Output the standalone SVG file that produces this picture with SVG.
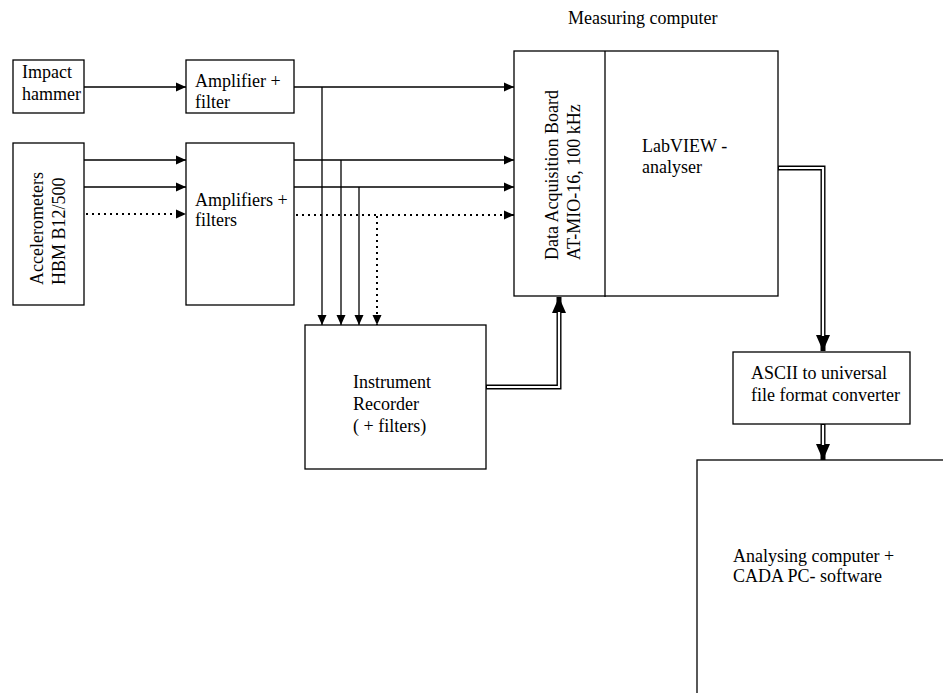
<svg xmlns="http://www.w3.org/2000/svg" width="943" height="693" viewBox="0 0 943 693">
<style>
.box{fill:#fff;stroke:#000;stroke-width:1.3}
.t{font-family:"Liberation Serif","Times New Roman",serif;font-size:18px;fill:#000}
.ln{fill:none;stroke:#000;stroke-width:1.3}
.dot{fill:none;stroke:#000;stroke-width:2;stroke-dasharray:2 4}
.dbl{fill:none;stroke:#000;stroke-width:5}
.dblw{fill:none;stroke:#fff;stroke-width:2.2}
</style>
<defs>
<marker id="ah" markerUnits="userSpaceOnUse" markerWidth="10" markerHeight="10" refX="10" refY="4.5" orient="auto" viewBox="0 0 10 9">
<path d="M0,0 L10,4.5 L0,9 z" fill="#000"/>
</marker>
<marker id="ahb" markerUnits="userSpaceOnUse" markerWidth="16" markerHeight="14" refX="16" refY="7" orient="auto" viewBox="0 0 16 14">
<path d="M0,0 L16,7 L0,14 z" fill="#000"/>
</marker>
</defs>
<rect width="943" height="693" fill="#fff"/>
<text class="t" x="568" y="24">Measuring computer</text>
<g id="impact">
<rect class="box" x="13" y="60" width="71" height="53"/>
<text class="t" x="22" y="78">Impact</text>
<text class="t" x="22" y="100">hammer</text>
</g>
<g id="amp">
<rect class="box" x="186" y="60" width="108" height="53"/>
<text class="t" x="195" y="87">Amplifier +</text>
<text class="t" x="195" y="108">filter</text>
</g>
<g id="accel">
<rect class="box" x="13" y="143" width="71" height="162"/>
<text class="t" transform="translate(43,285) rotate(-90)">Accelerometers</text>
<text class="t" transform="translate(65,285) rotate(-90)">HBM B12/500</text>
</g>
<g id="amps">
<rect class="box" x="186" y="143" width="108" height="162"/>
<text class="t" x="195" y="206">Amplifiers +</text>
<text class="t" x="195" y="226">filters</text>
</g>
<g id="daq">
<rect class="box" x="514" y="51" width="264" height="245"/>
<line class="ln" x1="605" y1="51" x2="605" y2="297"/>
<text class="t" transform="translate(558,260) rotate(-90)">Data Acquisition Board</text>
<text class="t" transform="translate(580,260) rotate(-90)">AT-MIO-16, 100 kHz</text>
<text class="t" x="642" y="152">LabVIEW -</text>
<text class="t" x="642" y="173">analyser</text>
</g>
<g id="recorder">
<rect class="box" x="305" y="325" width="181" height="144"/>
<text class="t" x="353" y="388">Instrument</text>
<text class="t" x="353" y="410">Recorder</text>
<text class="t" x="353" y="432">( + filters)</text>
</g>
<g id="ascii">
<rect class="box" x="733" y="352" width="177" height="72"/>
<text class="t" x="751" y="379">ASCII to universal</text>
<text class="t" x="751" y="401">file format converter</text>
</g>
<g id="analysing">
<rect class="box" x="697" y="460" width="280" height="260"/>
<text class="t" x="733" y="562">Analysing computer  +</text>
<text class="t" x="733" y="582">CADA PC- software</text>
</g>
<g id="connectors">
<path class="ln" d="M84,87 H186" marker-end="url(#ah)"/>
<path class="ln" d="M294,87 H514" marker-end="url(#ah)"/>
<path class="ln" d="M84,160 H186" marker-end="url(#ah)"/>
<path class="ln" d="M84,187 H186" marker-end="url(#ah)"/>
<path class="dot" d="M86,214 H186" marker-end="url(#ah)"/>
<path class="ln" d="M294,160 H514" marker-end="url(#ah)"/>
<path class="ln" d="M294,187 H514" marker-end="url(#ah)"/>
<path class="dot" d="M296,215 H514" marker-end="url(#ah)"/>
<path class="ln" d="M322,87 V325" marker-end="url(#ah)"/>
<path class="ln" d="M341,160 V325" marker-end="url(#ah)"/>
<path class="ln" d="M359,187 V325" marker-end="url(#ah)"/>
<path class="dot" d="M377,216 V325" marker-end="url(#ah)"/>
<path class="dbl" d="M778,168 H823 V351" marker-end="url(#ahb)"/>
<path class="dblw" d="M779,168 H823 V336"/>
<path class="dbl" d="M486,387 H559 V297" marker-end="url(#ahb)"/>
<path class="dblw" d="M487,387 H559 V312"/>
<path class="dbl" d="M823,424 V460" marker-end="url(#ahb)"/>
<path class="dblw" d="M823,425 V445"/>
</g>
</svg>
